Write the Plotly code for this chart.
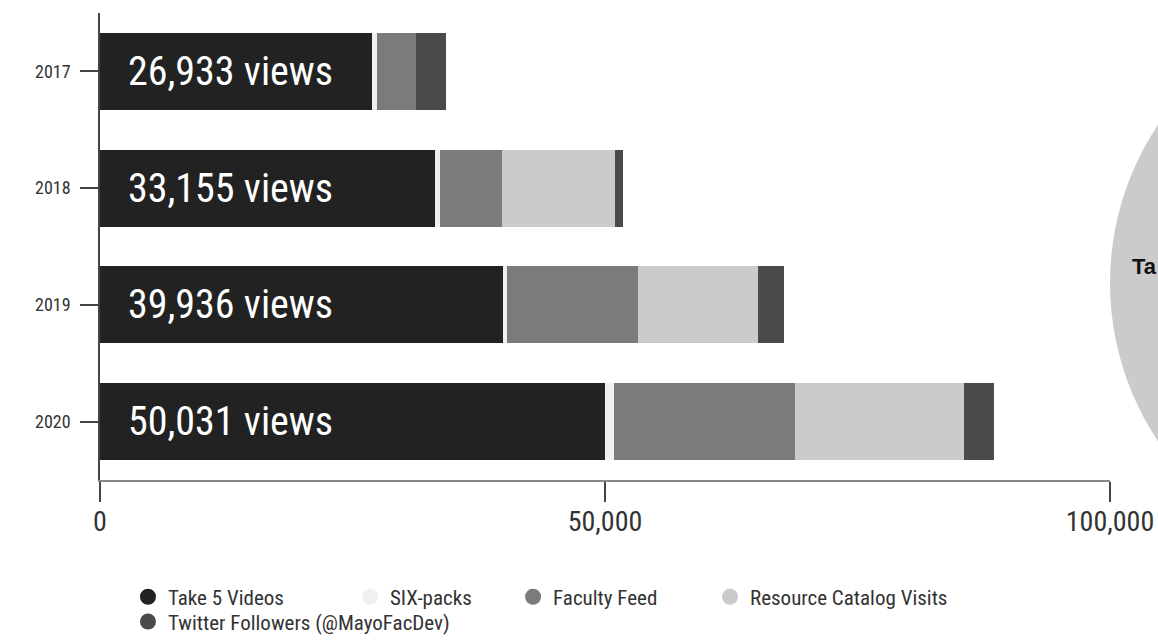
import plotly.graph_objects as go

years = ["2017", "2018", "2019", "2020"]
take5 = [26933, 33155, 39936, 50031]
sixpacks = [500, 550, 400, 900]
faculty_feed = [3900, 6100, 12900, 17900]
resource_catalog = [0, 11200, 11900, 16700]
twitter = [2900, 800, 2600, 3000]

series_names = ["Take 5 Videos", "SIX-packs", "Faculty Feed",
                "Resource Catalog Visits", "Twitter Followers (@MayoFacDev)"]
series_values = [take5, sixpacks, faculty_feed, resource_catalog, twitter]
colors = ["#222222", "#f0f0f0", "#7b7b7b", "#cbcbcb", "#4b4b4b"]

xticks = [0, 50000, 100000]
xticklabels = ["0", "50,000", "100,000"]

FONT = "Roboto Condensed, Liberation Sans Narrow, DejaVu Sans Condensed, Roboto, sans-serif"

fig = go.Figure()
for name, vals, col in zip(series_names, series_values, colors):
    fig.add_trace(go.Bar(
        y=years, x=vals, orientation="h", name=name,
        marker=dict(color=col, line=dict(width=0)),
        showlegend=False, hoverinfo="x+name",
    ))

# legend entries (circle markers), each in its own legend box
legend_pos = [(0.0277, -0.2507), (0.2475, -0.2507), (0.409, -0.2507),
              (0.604, -0.2507), (0.0277, -0.3037)]
legend_ids = ["legend", "legend2", "legend3", "legend4", "legend5"]
for name, col, lid in zip(series_names, colors, legend_ids):
    fig.add_trace(go.Scatter(
        x=[None], y=[None], mode="markers", name=name,
        marker=dict(color=col, size=17, symbol="circle"),
        legend=lid, showlegend=True, xaxis="x2", yaxis="y2",
    ))

annotations = []
for i, v in enumerate(take5):
    annotations.append(dict(
        x=0, y=i, xref="x domain", yref="y", text=f"{v:,} views",
        showarrow=False, xanchor="left", yanchor="middle", xshift=26,
        font=dict(family=FONT, size=40, color="white"),
    ))

# visible part of the neighbouring (cropped) pie chart label
annotations.append(dict(
    x=1.0198, y=0.458, xref="paper", yref="paper", text="<b>Ta</b>",
    showarrow=False, xanchor="left", yanchor="middle",
    font=dict(family="Liberation Sans, Arial, sans-serif", size=22, color="#111"),
))

legend_layout = {}
for lid, (lx, ly) in zip(legend_ids, legend_pos):
    legend_layout[lid] = dict(
        x=lx, y=ly, xanchor="left", yanchor="middle",
        orientation="h", bgcolor="rgba(0,0,0,0)",
        font=dict(family=FONT, size=21, color="#333"),
        itemsizing="trace",
    )

fig.update_layout(
    width=1158, height=642,
    margin=dict(l=100, r=48, t=13, b=162, autoexpand=False),
    barmode="stack", bargap=0.34,
    plot_bgcolor="white", paper_bgcolor="white",
    annotations=annotations,
    shapes=[dict(type="circle", xref="paper", yref="paper",
                 x0=1.0, x1=1.0 + 2 * 285 / 1010,
                 y0=(480 - 283 - 285) / 467, y1=(480 - 283 + 285) / 467,
                 fillcolor="#cbcbcb", line=dict(width=0), layer="below")],
    xaxis=dict(range=[0, 100000], tickvals=xticks, ticktext=xticklabels,
               showgrid=False, zeroline=False, showline=True, automargin=False,
               linecolor="#888", linewidth=2, ticks="outside", ticklen=20,
               tickcolor="#444", tickwidth=1.5, ticklabelstandoff=-5,
               tickfont=dict(family=FONT, size=28, color="#333")),
    yaxis=dict(type="category", categoryorder="array", categoryarray=years,
               range=[3.5, -0.5], autorange=False, automargin=False,
               showgrid=False, zeroline=False, showline=True,
               linecolor="#444", linewidth=1.5, ticks="outside", ticklen=18,
               tickcolor="#444", tickwidth=1.5, ticklabelstandoff=6,
               tickfont=dict(family=FONT, size=18, color="#333")),
    xaxis2=dict(visible=False, overlaying="x", range=[0, 1]),
    yaxis2=dict(visible=False, overlaying="y", range=[0, 1]),
    **legend_layout,
)

fig.write_html("out.html")
